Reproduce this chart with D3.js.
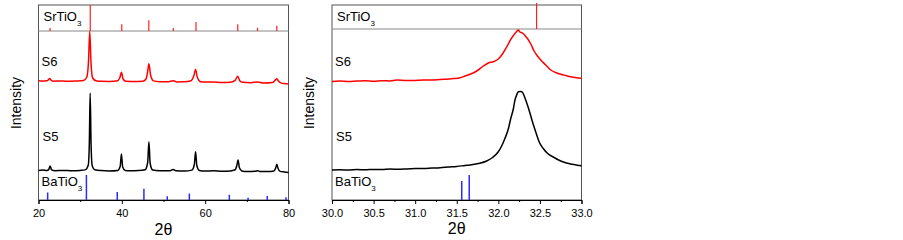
<!DOCTYPE html>
<html>
<head>
<meta charset="utf-8">
<script src="https://cdn.jsdelivr.net/npm/d3@7"></script>
<style>
  body { margin: 0; background: #fff; }
  text { font-family: Arial, "Liberation Sans", sans-serif; }
</style>
</head>
<body>
<div id="chart"></div>
<script>
// tick labels
const leftTicks = [20, 40, 60, 80];
const rightTicks = [30.0, 30.5, 31.0, 31.5, 32.0, 32.5, 33.0];

// reference patterns [2theta, relative intensity]
const srtio3Left = [[22.78, 12], [32.42, 100], [39.98, 26], [46.48, 41], [52.36, 12], [57.8, 35], [67.82, 26], [72.56, 12], [77.2, 20]];
const batio3Left = [[22.2, 30], [31.5, 100], [38.9, 32], [45.3, 45], [50.9, 15], [56.2, 26], [65.8, 21], [70.3, 9], [74.9, 16], [79.4, 11]];
const srtio3Right = [[32.46, 100]];
const batio3Right = [[31.56, 76], [31.65, 100]];

// measured patterns [2theta, intensity a.u.]
const s5Left = [[20.0,0.5],[21.0,0.9],[22.0,0.5],[22.45,1.4],[22.8,5],[23.15,1.1],[24.0,0.3],[26.0,0.6],[28.0,0.2],[30.0,0.6],[31.3,1.4],[31.95,6],[32.2,28],[32.4,78],[32.62,26],[32.9,5],[33.5,1.2],[35.0,0.4],[37.0,0.1],[39.0,0.6],[39.6,4.5],[39.9,17],[40.2,4],[40.8,0.6],[42.0,0.2],[44.0,0.4],[45.6,1.3],[46.2,8.5],[46.5,29.3],[46.8,7.5],[47.4,1.0],[49.0,0.2],[51.6,0.3],[52.3,1.5],[53.0,0.2],[55.0,-0.1],[56.8,0.9],[57.4,6.5],[57.7,19.3],[58.0,5.5],[58.6,0.6],[60.0,-0.1],[62.0,0.2],[64.0,-0.3],[66.0,0],[67.2,1.2],[67.6,5.5],[67.9,11],[68.2,3.5],[68.8,0.1],[70.0,-0.5],[72.0,-0.3],[72.6,0.3],[73.2,-0.6],[75.0,-0.6],[76.5,0],[77.0,4],[77.2,6.7],[77.5,2.5],[78.0,-0.4],[79.0,-1.0],[80.0,-1.5]];
const s6Left = [[20.0,0.8],[21.0,0.4],[22.0,0.7],[22.35,1.6],[22.7,3],[23.05,1.2],[23.7,0.3],[25.0,0.6],[27.0,0.2],[29.0,0.5],[30.8,1.0],[31.6,4.5],[32.0,20],[32.3,50],[32.6,19],[33.0,3.5],[33.8,0.8],[35.0,0.2],[37.0,0.1],[38.8,0.4],[39.5,3.5],[39.9,9.3],[40.3,2.5],[41.0,0.2],[43.0,-0.1],[45.0,0.2],[45.8,2.5],[46.2,10],[46.5,17.7],[46.9,6.5],[47.6,0.6],[49.0,-0.2],[51.0,-0.3],[52.3,0.8],[53.2,-0.4],[55.0,-0.3],[56.6,0.8],[57.3,6],[57.7,12],[58.1,4.5],[58.9,-0.2],[60.0,-0.6],[62.0,-0.4],[64.0,-0.9],[66.0,-0.7],[67.2,1.2],[67.8,5.3],[68.3,0.8],[69.0,-0.8],[71.0,-1.2],[72.6,-0.5],[74.0,-1.5],[76.2,-1],[76.9,1.8],[77.2,2.7],[77.6,0.4],[78.3,-1.6],[79.0,-2.0],[80.0,-2.4]];
const s6Right = [[30.0,0.6],[30.1,1.0],[30.2,0.5],[30.3,0.9],[30.4,1.2],[30.5,0.8],[30.6,1.3],[30.7,1.0],[30.78,1.9],[30.9,1.4],[31.0,1.6],[31.1,2.0],[31.2,1.9],[31.3,2.5],[31.4,3.0],[31.46,3.4],[31.54,4.3],[31.6,6],[31.66,7.7],[31.74,11],[31.82,16],[31.88,19],[31.94,20.3],[32.0,23],[32.05,28],[32.1,35],[32.16,44],[32.2,48.5],[32.22,50.5],[32.24,52],[32.26,50],[32.29,49],[32.32,46.5],[32.35,43.5],[32.39,38],[32.43,31],[32.47,26],[32.51,22],[32.57,17],[32.63,12],[32.69,9.5],[32.75,7.7],[32.81,6.5],[32.87,5.3],[32.94,4.3],[33.0,3.7]];
const s5Right = [[30.0,2.0],[30.1,2.3],[30.2,1.9],[30.3,2.5],[30.4,2.2],[30.5,2.6],[30.6,2.4],[30.7,2.9],[30.8,2.7],[30.9,3.1],[31.0,3.4],[31.1,3.5],[31.2,3.9],[31.3,4.3],[31.4,5.0],[31.5,5.6],[31.6,6.5],[31.66,7.0],[31.76,8.5],[31.86,11],[31.93,14.5],[32.0,20.3],[32.04,26],[32.08,33.7],[32.12,43],[32.15,53.7],[32.18,63],[32.2,72],[32.22,77],[32.24,80.3],[32.27,80.5],[32.29,79.7],[32.32,74],[32.35,67],[32.38,59],[32.41,50.3],[32.45,40],[32.49,30.3],[32.54,23.5],[32.59,18.7],[32.67,14.5],[32.75,11],[32.82,9],[32.89,7.7],[32.95,6.8],[33.0,6.3]];

const svg = d3.select("#chart")
  .append("svg")
  .attr("width", 903)
  .attr("height", 240);

svg.append("rect").attr("width", 903).attr("height", 240).attr("fill", "#fff");

function panel(cfg) {
  const x = d3.scaleLinear().domain(cfg.xDomain).range([cfg.left, cfg.right]);
  const y = d3.scaleLinear().domain([0, 195]).range([200, 5]);
  const g = svg.append("g");

  // frame
  g.append("rect")
    .attr("x", cfg.left).attr("y", 5)
    .attr("width", cfg.right - cfg.left).attr("height", 195)
    .attr("fill", "none").attr("stroke", "#555").attr("stroke-width", 1);

  // separator under SrTiO3 box
  g.append("line")
    .attr("x1", cfg.left).attr("x2", cfg.right)
    .attr("y1", y(cfg.srBase)).attr("y2", y(cfg.srBase))
    .attr("stroke", "#888").attr("stroke-width", 1);

  // reference sticks
  g.selectAll(".sr")
    .data(cfg.sr)
    .join("line")
    .attr("x1", d => x(d[0])).attr("x2", d => x(d[0]))
    .attr("y1", y(cfg.srBase))
    .attr("y2", d => y(cfg.srBase + d[1] * 0.26))
    .attr("stroke", "#ff2020").attr("stroke-width", 1.2);

  g.selectAll(".ba")
    .data(cfg.ba)
    .join("line")
    .attr("x1", d => x(d[0])).attr("x2", d => x(d[0]))
    .attr("y1", y(0))
    .attr("y2", d => y(d[1] * 0.25))
    .attr("stroke", "#2a2aff").attr("stroke-width", 1.5);

  // patterns
  const line = off => d3.line()
    .x(d => x(d[0]))
    .y(d => y(d[1] + off))
    .curve(d3.curveMonotoneX);

  g.append("path").datum(cfg.s6)
    .attr("d", line(cfg.s6Off))
    .attr("fill", "none").attr("stroke", "#ff0000").attr("stroke-width", 1.5);

  g.append("path").datum(cfg.s5)
    .attr("d", line(cfg.s5Off))
    .attr("fill", "none").attr("stroke", "#000").attr("stroke-width", 1.5);

  // x axis
  const ax = g.append("g")
    .attr("transform", "translate(0,200)")
    .call(d3.axisBottom(x).tickValues(cfg.ticks).tickSize(4).tickFormat(cfg.fmt));
  ax.select(".domain").attr("stroke", "#000");
  ax.selectAll("text").attr("font-size", 11).attr("fill", "#000").attr("dy", "0.9em")
    .style("font-family", "Arial, 'Liberation Sans', sans-serif");

  g.append("g")
    .attr("transform", "translate(0,200)")
    .call(d3.axisBottom(x).tickValues(cfg.minor).tickSize(2).tickFormat(""))
    .select(".domain").remove();

  g.append("text")
    .attr("x", (cfg.left + cfg.right) / 2).attr("y", cfg.titleY)
    .attr("text-anchor", "middle").attr("font-size", 16)
    .text("2θ");

  g.append("text")
    .attr("transform", `translate(${cfg.left - 18},103) rotate(-90)`)
    .attr("text-anchor", "middle").attr("font-size", 14)
    .text("Intensity");

  // labels
  const lab = (tx, ty, main, sub) => {
    const t = g.append("text").attr("x", tx).attr("y", ty).attr("font-size", 13).text(main);
    if (sub) t.append("tspan").attr("font-size", 8).attr("dy", 5).text(sub);
  };
  lab(cfg.left + 5, 21, "SrTiO", "3");
  lab(cfg.left + 3, 66, "S6");
  lab(cfg.left + 4, 141, "S5");
  lab(cfg.left + 3, 186, "BaTiO", "3");
}

panel({
  left: 38.5, right: 288.5, xDomain: [20, 80],
  ticks: leftTicks, minor: [30, 50, 70], fmt: d3.format("d"),
  sr: srtio3Left, ba: batio3Left, srBase: 169,
  s5: s5Left, s6: s6Left, s5Off: 29, s6Off: 118.5, titleY: 235
});

panel({
  left: 332, right: 581.5, xDomain: [30, 33],
  ticks: rightTicks, minor: [30.25, 30.75, 31.25, 31.75, 32.25, 32.75], fmt: d3.format(".1f"),
  sr: srtio3Right, ba: batio3Right, srBase: 171,
  s5: s5Right, s6: s6Right, s5Off: 28, s6Off: 118, titleY: 234
});
</script>
</body>
</html>
